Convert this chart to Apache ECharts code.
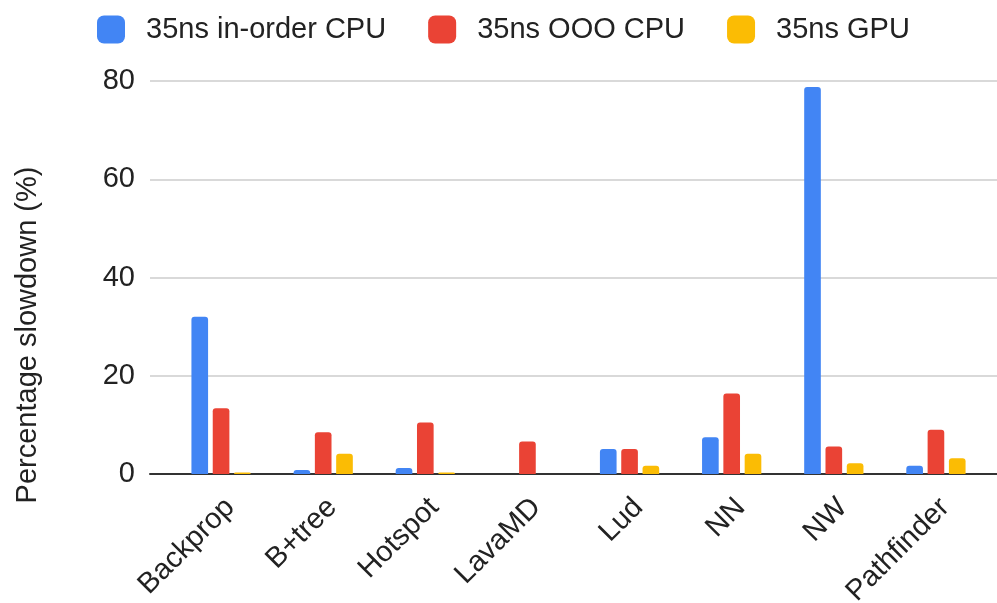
<!DOCTYPE html>
<html>
<head>
<meta charset="utf-8">
<script src="https://cdn.jsdelivr.net/npm/echarts@6/dist/echarts.min.js"></script>
<style>html,body{margin:0;padding:0;background:#fff;}#c{width:997px;height:603px;}</style>
</head>
<body>
<div id="c"></div>
<script>
var categories = ['Backprop', 'B+tree', 'Hotspot', 'LavaMD', 'Lud', 'NN', 'NW', 'Pathfinder'];
var seriesNames = ['35ns in-order CPU', '35ns OOO CPU', '35ns GPU'];
var inOrderCPU = [32.0, 0.8, 1.2, 0, 5.1, 7.5, 78.8, 1.7];
var oooCPU = [13.4, 8.5, 10.5, 6.6, 5.1, 16.4, 5.6, 9.0];
var gpu = [0.3, 4.1, 0.3, 0, 1.7, 4.1, 2.2, 3.2];
var yTicks = [0, 20, 40, 60, 80];
var colors = ['#4285F4', '#EA4335', '#FBBC04'];

var FONT = '"Liberation Sans", Arial, sans-serif';
var FS = 29;
var chart = echarts.init(document.getElementById('c'));
var values = [inOrderCPU, oooCPU, gpu];
var series = values.map(function (v, i) {
  return {
    name: seriesNames[i], type: 'bar', xAxisIndex: 1, yAxisIndex: 1,
    data: v, barWidth: '16.3%', barGap: '28%',
    itemStyle: { color: colors[i], borderRadius: [3, 3, 0, 0] }
  };
});
var gridBase = { top: 81, bottom: 129, outerBoundsMode: 'none', containLabel: false };
chart.setOption({
  animation: false,
  color: colors,
  textStyle: { fontFamily: FONT },
  legend: {
    left: 92, top: 10, itemWidth: 28, itemHeight: 28, itemGap: 42,
    icon: 'roundRect',
    data: seriesNames,
    textStyle: { fontSize: FS, color: '#222', fontFamily: FONT, padding: [0, 0, 0, 16] }
  },
  grid: [
    Object.assign({ left: 150, right: 0 }, gridBase),
    Object.assign({ left: 170, right: 10 }, gridBase),
    Object.assign({ left: 179, right: 1 }, gridBase)
  ],
  xAxis: [
    { type: 'category', gridIndex: 0, data: categories, axisLabel: { show: false },
      axisTick: { show: false }, axisLine: { show: true, lineStyle: { color: '#333', width: 2 } } },
    { type: 'category', gridIndex: 1, data: categories,
      axisLine: { show: false }, axisTick: { show: false }, axisLabel: { show: false } },
    { type: 'category', gridIndex: 2, data: categories,
      axisLine: { show: false }, axisTick: { show: false },
      axisLabel: { rotate: 45, margin: 29, fontSize: FS, color: '#222', fontFamily: FONT, interval: 0 } }
  ],
  yAxis: [
    { type: 'value', gridIndex: 0, min: yTicks[0], max: yTicks[yTicks.length - 1], interval: 20,
      axisLine: { show: false }, axisTick: { show: false },
      axisLabel: { margin: 15, fontSize: FS, color: '#222', fontFamily: FONT },
      splitLine: { lineStyle: { color: '#cccccc', width: 1.5 } } },
    { type: 'value', gridIndex: 1, min: yTicks[0], max: yTicks[yTicks.length - 1], interval: 20,
      show: false, splitLine: { show: false } },
    { type: 'value', gridIndex: 2, min: yTicks[0], max: yTicks[yTicks.length - 1], interval: 20,
      show: false, splitLine: { show: false } }
  ],
  graphic: [{
    type: 'text', x: 28, y: 335, rotation: Math.PI / 2,
    style: { text: 'Percentage slowdown (%)', fontSize: FS, fill: '#222', fontFamily: FONT,
      textAlign: 'center', textVerticalAlign: 'middle' }
  }],
  series: series
});
</script>
</body>
</html>
